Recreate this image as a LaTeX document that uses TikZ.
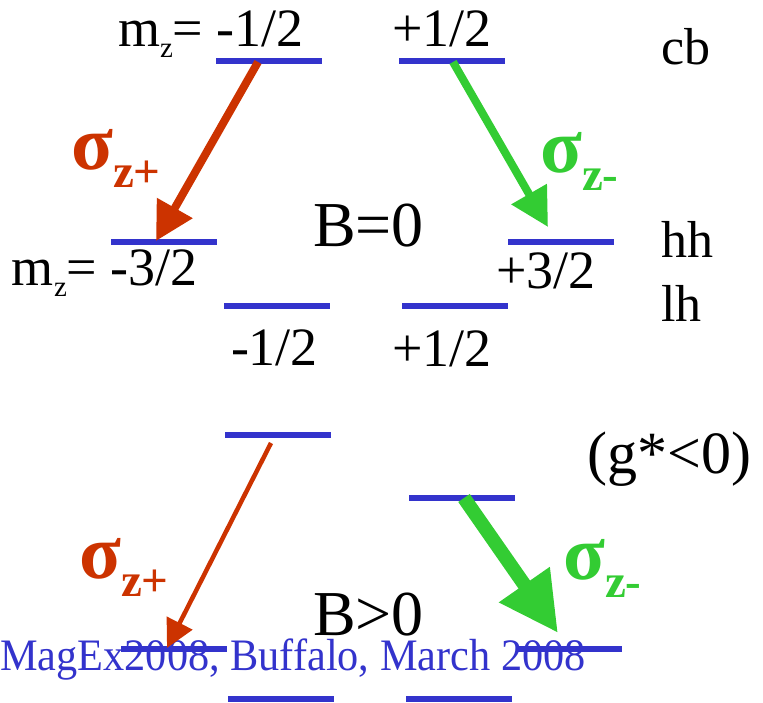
\documentclass[tikz,border=0pt]{standalone}
\usepackage{fontspec}
\usepackage{graphicx}
\setmainfont{Liberation Serif}
\newfontfamily\condfont[FakeStretch=0.94]{Liberation Serif}
\usetikzlibrary{arrows.meta,calc}
\definecolor{lvlblue}{HTML}{3333CC}
\definecolor{sred}{HTML}{CC3300}
\definecolor{sgreen}{HTML}{33CC33}
\newcommand{\fsz}[1]{\fontsize{#1}{#1}\selectfont}
\newcommand{\mzsub}{m\raisebox{-11pt}{\fsz{29}z}=}
\newcommand{\sigl}[1]{{\fsz{77}\bfseries σ}\raisebox{-18pt}{\fsz{47}\bfseries #1}}
\begin{document}
\begin{tikzpicture}[x=1pt,y=-1pt,
  level/.style={rectangle,fill=lvlblue,minimum width=106pt,minimum height=6pt,inner sep=0pt,outer sep=0pt},
  lbl/.style={anchor=base west,inner sep=0pt,outer sep=0pt,font=\fsz{54}},
  band/.style={anchor=base west,inner sep=0pt,outer sep=0pt,font=\fsz{52}},
  big/.style={anchor=base west,inner sep=0pt,outer sep=0pt,font=\fsz{64}},
  redarrow/.style={draw=sred,line width=#1},
  greenarrow/.style={draw=sgreen,line width=#1}
]
\useasboundingbox (0,0) rectangle (763,703);
% footer text (drawn first, under the levels)
\node[anchor=base west,inner sep=0pt,text=lvlblue,font=\condfont\fsz{45}] (foot) at (0,670) {MagEx2008, Buffalo, March 2008};
% levels, B=0
\node[level] (cbL) at (268.5,61) {};
\node[level] (cbR) at (452,61) {};
\node[level] (hhL) at (164,242) {};
\node[level] (hhR) at (561,242) {};
\node[level] (lhL) at (277,306) {};
\node[level] (lhR) at (455,306) {};
% levels, B>0
\node[level] (cbL2) at (277.5,435) {};
\node[level] (cbR2) at (461.5,498) {};
\node[level] (hhL2) at (173.5,649) {};
\node[level] (hhR2) at (568.5,649) {};
\node[level] (lhL2) at (280.5,699) {};
\node[level] (lhR2) at (459,699) {};
% arrows
\draw[redarrow=8pt,-{Triangle[length=38pt,width=39pt]},sred] ($(cbL.center)+(-10.5,1)$) -- ($(hhL.center)+(-8,-1)$);
\draw[greenarrow=8pt,-{Triangle[length=38pt,width=39pt]},sgreen] ($(cbR.center)+(1,1)$) -- ($(hhR.center)+(-13,-15)$);
\draw[redarrow=4.5pt,-{Triangle[length=28pt,width=28pt]},sred] ($(cbL2.center)+(-6.5,8)$) -- ($(hhL2.center)+(-6.5,-1)$);
\draw[greenarrow=14pt,-{Triangle[length=59pt,width=58pt]},sgreen] ($(cbR2.center)+(2.5,0)$) -- ($(hhR2.center)+(-10.5,-16)$);
% labels
\node[lbl] (mz1) at (118,47) {\mzsub\ -1/2};
\node[lbl] (p12a) at (392,47) {+1/2};
\node[band] (cb) at (661,65) {cb};
\node[band] (hh) at (661,258) {hh};
\node[band] (lh) at (661,322) {lh};
\node[lbl] (mz3) at (12,286) {\mzsub\ -3/2};
\node[lbl] (p32) at (496,289) {+3/2};
\node[lbl] (m12) at (231,365) {-1/2};
\node[lbl] (p12b) at (392,366) {+1/2};
\node[big] (B0) at (313,247) {B=0};
\node[big] (Bg0) at (313,635) {B>0};
\node[anchor=base west,inner sep=0pt,font=\fsz{60}] (gstar) at (587,473) {(g*<0)};
% sigma labels
\node[anchor=base west,inner sep=0pt,text=sred] (s1) at (71,170) {\sigl{z+}};
\node[anchor=base west,inner sep=0pt,text=sgreen] (s2) at (540,173) {\sigl{z-}};
\node[anchor=base west,inner sep=0pt,text=sred] (s3) at (79,578) {\sigl{z+}};
\node[anchor=base west,inner sep=0pt,text=sgreen] (s4) at (563,579) {\sigl{z-}};
\end{tikzpicture}
\end{document}
